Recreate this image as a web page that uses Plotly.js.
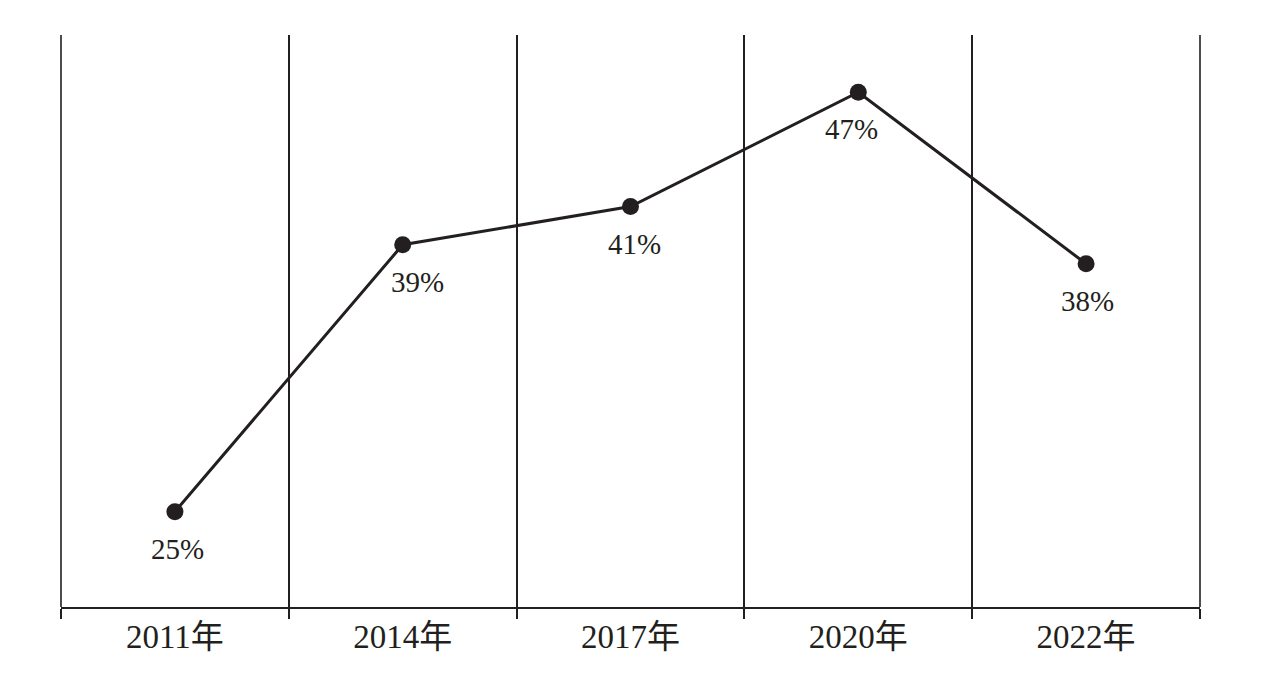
<!DOCTYPE html>
<html>
<head>
<meta charset="utf-8">
<script src="https://cdn.plot.ly/plotly-3.0.1.min.js"></script>
<style>html,body{margin:0;padding:0;background:#fff;}#chart{width:1281px;height:686px;}</style>
</head>
<body>
<div id="chart"></div>
<script>
var years = ["2011年", "2014年", "2017年", "2020年", "2022年"];
var shares = [25, 39, 41, 47, 38];
var labels = ["25%", "39%", "41%", "47%", "38%"];

var ink = "#231f20";
var fontFam = "'Liberation Serif', 'Times New Roman', 'Noto Sans CJK SC', serif";
// small horizontal nudges of the value labels, as in the original artwork
var labelNudge = [3, 15, 4, -7, 1];

var trace = {
  x: years,
  y: shares,
  type: "scatter",
  mode: "lines+markers",
  line: {color: ink, width: 3},
  marker: {color: ink, size: 17},
  cliponaxis: false,
  hoverinfo: "skip"
};

var annotations = years.map(function (yr, i) {
  return {
    x: yr, y: shares[i], xref: "x", yref: "y",
    text: labels[i], showarrow: false,
    yshift: -37, xshift: labelNudge[i],
    font: {family: fontFam, size: 29, color: ink}
  };
});

var shapes = [0, 1].map(function (px) {
  return {
    type: "line", xref: "paper", yref: "paper",
    x0: px, x1: px, y0: 0, y1: 1,
    line: {color: ink, width: 1.6}
  };
});

var layout = {
  width: 1281,
  height: 686,
  margin: {l: 61, r: 81, t: 35, b: 79},
  paper_bgcolor: "#fff",
  plot_bgcolor: "#fff",
  showlegend: false,
  hovermode: false,
  annotations: annotations,
  shapes: shapes,
  xaxis: {
    type: "category",
    range: [-0.5, 4.5],
    tickson: "boundaries",
    showgrid: true,
    gridcolor: ink,
    gridwidth: 1.5,
    showline: true,
    linecolor: ink,
    linewidth: 1.5,
    ticks: "outside",
    ticklen: 10,
    tickwidth: 1.5,
    tickcolor: ink,
    tickfont: {family: fontFam, size: 33, color: ink},
    fixedrange: true
  },
  yaxis: {
    range: [20, 50],
    showgrid: false,
    zeroline: false,
    showline: false,
    showticklabels: false,
    ticks: "",
    fixedrange: true
  }
};

Plotly.newPlot("chart", [trace], layout, {displayModeBar: false});
</script>
</body>
</html>
